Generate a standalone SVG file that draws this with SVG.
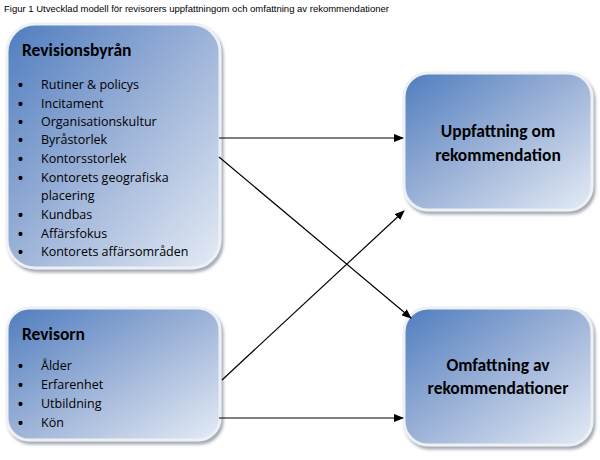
<svg xmlns="http://www.w3.org/2000/svg" width="600" height="460" viewBox="0 0 600 460">
<defs>
<linearGradient id="g" x1="0" y1="0" x2="1" y2="1">
<stop offset="0" stop-color="#4f7dbf"/><stop offset="0.5" stop-color="#9db3d8"/><stop offset="1" stop-color="#e4ebf5"/>
</linearGradient>
<filter id="sh" x="-10%" y="-10%" width="130%" height="130%"><feDropShadow dx="2" dy="3" stdDeviation="1.5" flood-color="#7a8595" flood-opacity="0.7"/></filter>
<marker id="ah" markerWidth="10" markerHeight="8" refX="9" refY="4" orient="auto" markerUnits="userSpaceOnUse"><path d="M0,0 L10,4 L0,8 z" fill="#000"/></marker>
</defs>
<style>
.box{fill:url(#g);stroke:#eef0f3;stroke-width:3;filter:url(#sh)}
.h{font-family:Calibri,"Liberation Sans",sans-serif;font-weight:bold;font-size:17.5px;fill:#000}
.t{font-family:"Open Sans","Liberation Sans",sans-serif;font-size:12.5px;fill:#000}
.b{font-family:"Liberation Sans",sans-serif;font-size:14px;font-weight:bold;fill:#000}
.c{stroke:#000;stroke-width:1.2;fill:none;marker-end:url(#ah)}
</style>
<rect width="600" height="460" fill="#fff"/>
<text x="4" y="12" font-family="Liberation Sans,sans-serif" font-size="9.5" fill="#000">Figur 1 Utvecklad modell för revisorers uppfattningom och omfattning av rekommendationer</text>
<g id="revisionsbyran">
<rect class="box" x="7" y="24" width="213" height="244" rx="28"/>
<text class="h" x="22" y="56">Revisionsbyrån</text>
<g class="b">
<text x="18" y="90">•</text><text x="18" y="109">•</text><text x="18" y="127">•</text><text x="18" y="145">•</text><text x="18" y="164">•</text><text x="18" y="183">•</text><text x="18" y="220">•</text><text x="18" y="239">•</text><text x="18" y="257">•</text>
</g>
<g class="t">
<text x="41" y="89">Rutiner &amp; policys</text>
<text x="41" y="108">Incitament</text>
<text x="41" y="126">Organisationskultur</text>
<text x="41" y="144">Byråstorlek</text>
<text x="41" y="163">Kontorsstorlek</text>
<text x="41" y="182">Kontorets geografiska</text>
<text x="41" y="200">placering</text>
<text x="41" y="219">Kundbas</text>
<text x="41" y="238">Affärsfokus</text>
<text x="41" y="256">Kontorets affärsområden</text>
</g>
</g>
<g id="revisorn">
<rect class="box" x="7" y="308" width="213" height="132" rx="22"/>
<text class="h" x="22" y="340">Revisorn</text>
<g class="b">
<text x="18" y="371">•</text><text x="18" y="390">•</text><text x="18" y="409">•</text><text x="18" y="428">•</text>
</g>
<g class="t">
<text x="41" y="370">Ålder</text>
<text x="41" y="389">Erfarenhet</text>
<text x="41" y="408">Utbildning</text>
<text x="41" y="427">Kön</text>
</g>
</g>
<g id="uppfattning">
<rect class="box" x="404" y="73" width="188" height="137" rx="24"/>
<text class="h" x="498" y="137" text-anchor="middle">Uppfattning om</text>
<text class="h" x="498" y="161" text-anchor="middle">rekommendation</text>
</g>
<g id="omfattning">
<rect class="box" x="404" y="308" width="188" height="137" rx="24"/>
<text class="h" x="498" y="371" text-anchor="middle">Omfattning av</text>
<text class="h" x="498" y="394" text-anchor="middle">rekommendationer</text>
</g>
<g id="connectors">
<path class="c" d="M219,138 L403,138"/>
<path class="c" d="M219,157 L411,318"/>
<path class="c" d="M222,380 L404,211"/>
<path class="c" d="M219,418 L403,418"/>
</g>
</svg>
